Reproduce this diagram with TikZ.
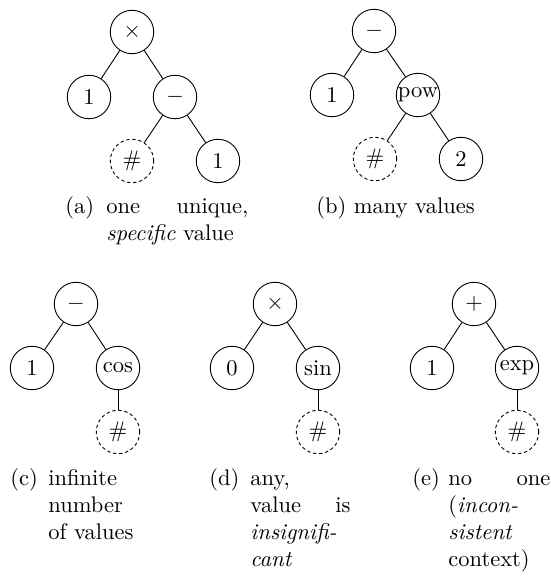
\documentclass[tikz,border=0pt]{standalone}
\tikzset{
  op/.style={draw, circle, minimum size=19.3pt, inner sep=0pt, line width=0.4pt},
  hole/.style={op, dash pattern=on 1.5pt off 1.2pt},
  link/.style={line width=0.4pt},
  captext/.style={inner sep=0pt, anchor=base west},
}
\begin{document}
\begin{tikzpicture}[x=0.4444pt, y=-0.4444pt]
\useasboundingbox (0,0) rectangle (550,581);

% (a) one unique, specific value
\node[op]   (ra) at (132,32)  {$\times$};
\node[op]   (a1) at (89,97)   {1};
\node[op]   (am) at (175,97)  {$-$};
\node[hole] (ah) at (132,161) {\#};
\node[op]   (a2) at (218,161) {1};
\draw[link] (ra) -- (a1);
\draw[link] (ra) -- (am);
\draw[link] (am) -- (ah);
\draw[link] (am) -- (a2);
\node[captext] (la) at (65,213)  {(a)};
\node[captext] (ta) at (106,213) {\parbox[t]{63.1pt}{one\hfill unique,\\\emph{specific} value}};

% (b) many values
\node[op]   (rb) at (374,31)  {$-$};
\node[op]   (b1) at (332,95)  {1};
\node[op]   (bp) at (418,95)  {pow};
\node[hole] (bh) at (375,159) {\#};
\node[op]   (b2) at (461,159) {2};
\draw[link] (rb) -- (b1);
\draw[link] (rb) -- (bp);
\draw[link] (bp) -- (bh);
\draw[link] (bp) -- (b2);
\node[captext] (lb) at (316,213) {(b) many values};

% (c) infinite number of values
\node[op]   (rc) at (76,304)  {$-$};
\node[op]   (c1) at (32,368)  {1};
\node[op]   (cc) at (118,368) {cos};
\node[hole] (ch) at (118,432) {\#};
\draw[link] (rc) -- (c1);
\draw[link] (rc) -- (cc);
\draw[link] (cc) -- (ch);
\node[captext] (lc) at (10,485) {(c)};
\node[captext] (tc) at (48,485) {\parbox[t]{44.5pt}{infinite\\number\\of values}};

% (d) any, value is insignificant
\node[op]   (rd) at (275,304) {$\times$};
\node[op]   (d0) at (232,368) {0};
\node[op]   (ds) at (318,368) {sin};
\node[hole] (dh) at (318,432) {\#};
\draw[link] (rd) -- (d0);
\draw[link] (rd) -- (ds);
\draw[link] (ds) -- (dh);
\node[captext] (ld) at (209,485) {(d)};
\node[captext] (td) at (250,485) {\parbox[t]{44.5pt}{any,\\value\hfill is\\\emph{insignifi-}\\\emph{cant}}};

% (e) no one (inconsistent context)
\node[op]   (re) at (474,304) {$+$};
\node[op]   (e1) at (432,368) {1};
\node[op]   (ee) at (517,368) {exp};
\node[hole] (eh) at (517,432) {\#};
\draw[link] (re) -- (e1);
\draw[link] (re) -- (ee);
\draw[link] (ee) -- (eh);
\node[captext] (le) at (412,485) {(e)};
\node[captext] (te) at (448,485) {\parbox[t]{45.3pt}{no\hfill one\\(\emph{incon-}\\\emph{sistent}\\context)}};
\end{tikzpicture}
\end{document}
